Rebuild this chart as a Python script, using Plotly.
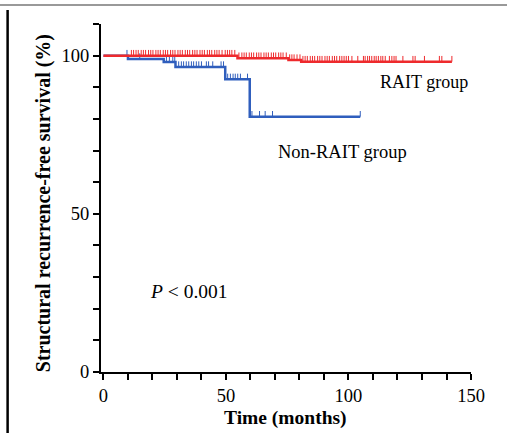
import numpy as np
import plotly.graph_objects as go

# ---- data ----
rait_times = [0, 54.7, 75.5, 80.7, 142.2]
rait_surv = [100, 99.2, 98.6, 98.1, 98.1]
rait_censor = [11.4, 12.3, 13.3, 14.2, 15.4, 16.3, 17.2, 18.4, 19.3, 20.2, 21.4, 22.3, 23.2,
               24.4, 25.3, 26.2, 27.4, 28.3, 29.2, 30.4, 31.3, 32.2, 33.4, 34.3, 35.2, 36.4,
               37.3, 38.2, 39.4, 40.3, 41.2, 42.4, 43.3, 44.2, 45.4, 46.3, 47.2, 48.4, 49.7,
               50.6, 51.5, 52.4, 53.6, 55.3, 56.5, 57.4, 58.3, 59.5, 60.4, 61.3, 62.5, 63.4,
               64.3, 65.5, 66.4, 67.3, 68.5, 69.4, 70.3, 71.5, 72.4, 73.3, 74.6, 76.0, 76.9,
               77.8, 79.0, 80.2, 81.4, 82.3, 83.2, 84.4, 85.3, 86.2, 87.4, 88.3, 89.2, 90.4,
               91.3, 92.2, 93.4, 94.3, 95.2, 96.4, 97.3, 98.2, 99.1, 100.0, 101.4, 103.8,
               106.1, 106.8, 107.8, 108.6, 109.5, 110.5, 111.3, 112.2, 113.2, 114.0, 115.0,
               116.7, 117.7, 118.6, 119.4, 122.2, 126.3, 127.2, 131.0, 137.1, 138.1, 142.2]

non_times = [0, 10.0, 24.6, 29.4, 49.7, 59.7, 104.8]
non_surv = [100, 98.9, 98.0, 96.4, 92.5, 80.7, 80.7]
non_censor = [9.6, 14.8, 25.7, 26.9, 28.3, 29.1, 30.7, 31.8, 32.7, 33.8, 34.8, 35.9, 36.8,
              37.9, 38.9, 40.0, 42.0, 42.9, 44.6, 48.0, 49.0, 50.7, 51.8, 52.9, 53.8, 54.8,
              55.9, 58.8, 60.6, 63.7, 66.0, 69.0, 104.8]

x_tick_vals = [0, 50, 100, 150]
x_tick_text = ["0", "50", "100", "150"]
y_tick_vals = [0, 50, 100]
y_tick_text = ["0", "50", "100"]

RED = "#EE2A2D"
BLUE = "#2F5EBD"
FONT = "Liberation Serif, Times New Roman, serif"
TICK_H = 1.8


def level_at(times, surv, t):
    idx = np.searchsorted(np.array(times), t, side="right") - 1
    return surv[max(idx, 0)]


def censor_segments(times, surv, ctimes):
    xs, ys = [], []
    for t in ctimes:
        s = level_at(times, surv, t)
        xs += [t, t, None]
        ys += [s, s + TICK_H, None]
    return xs, ys


fig = go.Figure()

# Non-RAIT (blue)
fig.add_trace(go.Scatter(x=non_times, y=non_surv, mode="lines", line=dict(color=BLUE, width=2.5, shape="hv"),
                         showlegend=False, hoverinfo="skip"))
bx, by = censor_segments(non_times, non_surv, non_censor)
fig.add_trace(go.Scatter(x=bx, y=by, mode="lines", line=dict(color=BLUE, width=1),
                         showlegend=False, hoverinfo="skip"))

# RAIT (red)
fig.add_trace(go.Scatter(x=rait_times, y=rait_surv, mode="lines", line=dict(color=RED, width=2.5, shape="hv"),
                         showlegend=False, hoverinfo="skip"))
rx, ry = censor_segments(rait_times, rait_surv, rait_censor)
fig.add_trace(go.Scatter(x=rx, y=ry, mode="lines", line=dict(color=RED, width=1),
                         showlegend=False, hoverinfo="skip"))

fig.update_layout(
    width=507, height=433,
    margin=dict(l=100.5, r=36, t=24, b=61),
    paper_bgcolor="white", plot_bgcolor="white",
    font=dict(family=FONT, size=18.5, color="black"),
    xaxis=dict(range=[-1, 150], showgrid=False, zeroline=False, showline=True, linecolor="black",
               linewidth=2, ticks="outside", ticklen=6, tickwidth=2, tickcolor="black",
               tickvals=x_tick_vals, ticktext=x_tick_text,
               minor=dict(dtick=10, tick0=0, ticks="outside", ticklen=6, tickwidth=2, tickcolor="black",
                          showgrid=False),
               tickfont=dict(family=FONT, size=18.5)),
    yaxis=dict(range=[0, 110], showgrid=False, zeroline=False, showline=True, linecolor="black",
               linewidth=2, ticks="outside", ticklen=6, tickwidth=2, tickcolor="black",
               tickvals=y_tick_vals, ticktext=y_tick_text,
               minor=dict(dtick=10, tick0=0, ticks="outside", ticklen=6, tickwidth=2, tickcolor="black",
                          showgrid=False),
               tickfont=dict(family=FONT, size=18.5)),
)

annotations = [
    dict(text="RAIT group", x=130.9, y=91.7, xref="x", yref="y", showarrow=False,
         font=dict(family=FONT, size=18)),
    dict(text="Non-RAIT group", x=97.4, y=69.5, xref="x", yref="y", showarrow=False,
         font=dict(family=FONT, size=18.5)),
    dict(text="<i>P</i> < 0.001", x=35.1, y=25.3, xref="x", yref="y", showarrow=False,
         font=dict(family=FONT, size=19.5)),
    dict(text="<b>Time (months)</b>", x=0.498, y=-0.132, xref="paper", yref="paper", showarrow=False,
         xanchor="center", yanchor="middle", font=dict(family=FONT, size=19.5)),
    dict(text="<b>Structural recurrence-free survival (%)</b>", x=-0.155, y=0.484, xref="paper",
         yref="paper", showarrow=False, textangle=-90, xanchor="center", yanchor="middle",
         font=dict(family=FONT, size=20)),
]
fig.update_layout(annotations=annotations)

fig.add_shape(type="line", xref="paper", yref="paper", x0=-0.2524, x1=-0.2524, y0=1.04, y1=-0.2,
              line=dict(color="black", width=2.5), layer="above")
fig.add_shape(type="line", xref="paper", yref="paper", x0=-0.28, x1=1.1, y0=1.0545, y1=1.0545,
              line=dict(color="#999999", width=2), layer="above")

fig.write_html("out.html", config={"displayModeBar": False},
               post_script="document.body.style.margin='0px';document.body.style.overflow='hidden';")
